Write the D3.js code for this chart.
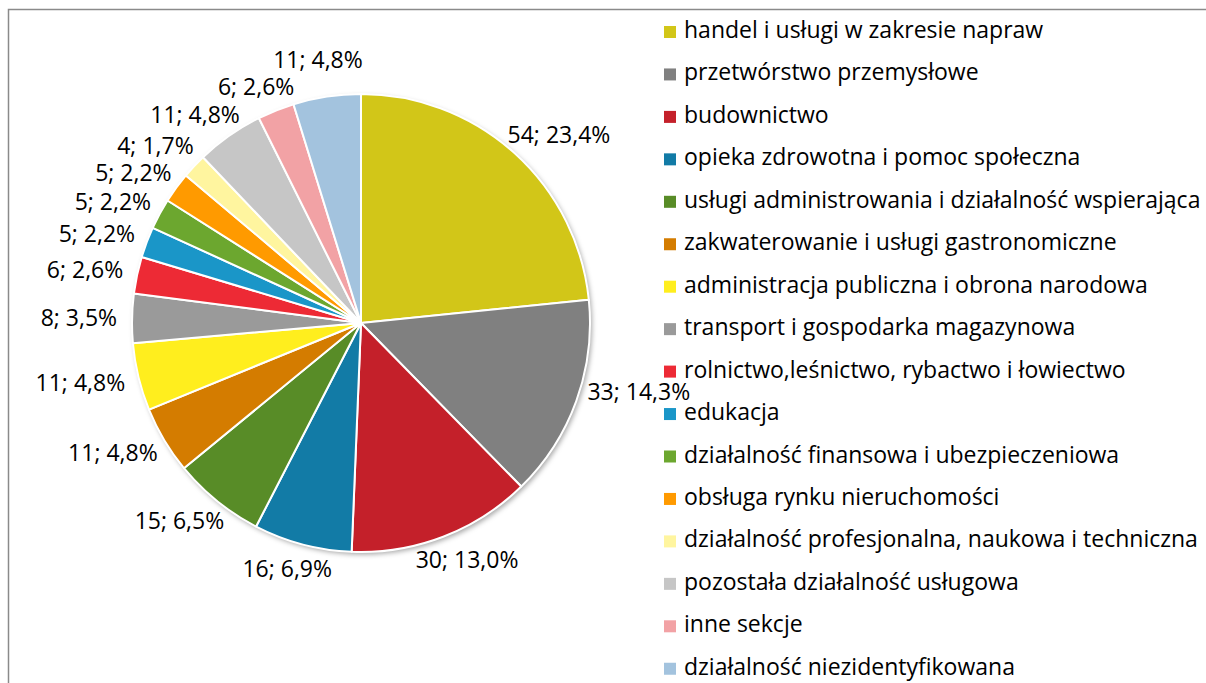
<!DOCTYPE html>
<html>
<head>
<meta charset="utf-8">
<script src="https://cdn.jsdelivr.net/npm/d3@7"></script>
<style>
  body { margin: 0; background: #fff; }
  text { font-family: "Open Sans", "Noto Sans", sans-serif; fill: #000; }
</style>
</head>
<body>
<div id="chart"></div>
<script>
// sekcje PKD, liczba podmiotów
const categories = [
  "handel i usługi w zakresie napraw",
  "przetwórstwo przemysłowe",
  "budownictwo",
  "opieka zdrowotna i pomoc społeczna",
  "usługi administrowania i działalność wspierająca",
  "zakwaterowanie i usługi gastronomiczne",
  "administracja publiczna i obrona narodowa",
  "transport i gospodarka magazynowa",
  "rolnictwo,leśnictwo, rybactwo i łowiectwo",
  "edukacja",
  "działalność finansowa i ubezpieczeniowa",
  "obsługa rynku nieruchomości",
  "działalność profesjonalna, naukowa i techniczna",
  "pozostała działalność usługowa",
  "inne sekcje",
  "działalność niezidentyfikowana"
];
const values = [54, 33, 30, 16, 15, 11, 11, 8, 6, 5, 5, 5, 4, 11, 6, 11];
const colors = [
  "#D2C618", "#808080", "#C4202A", "#127BA6", "#588C27", "#D47C00",
  "#FFEE1E", "#9A9A9A", "#ED2A35", "#1A96C8", "#6CA72F", "#FF9A00",
  "#FFF59F", "#C6C6C6", "#F2A2A5", "#A3C3DE"
];

const width = 1206, height = 683;
const cx = 361, cy = 323, radius = 229;
const fontSize = 23;

const svg = d3.select("#chart").append("svg")
    .attr("width", width)
    .attr("height", height);

// ramka wykresu
svg.append("rect")
    .attr("x", 8.5)
    .attr("y", 9.5)
    .attr("width", width + 50)
    .attr("height", height + 50)
    .attr("fill", "none")
    .attr("stroke", "#8a8a8a")
    .attr("stroke-width", 1.5);

const defs = svg.append("defs");
defs.append("filter")
    .attr("id", "shadow")
    .attr("x", "-10%").attr("y", "-10%")
    .attr("width", "120%").attr("height", "120%")
  .append("feDropShadow")
    .attr("dx", 2).attr("dy", 2.5)
    .attr("stdDeviation", 2.5)
    .attr("flood-color", "#000")
    .attr("flood-opacity", 0.35);

const total = d3.sum(values);
const pctFormat = d3.format(".1f");

const pie = d3.pie().sort(null).value(d => d);
const arcs = pie(values);
const arc = d3.arc().innerRadius(0).outerRadius(radius);

const pieG = svg.append("g")
    .attr("transform", `translate(${cx}, ${cy})`);

pieG.append("circle")
    .attr("r", radius)
    .attr("fill", "#fff")
    .attr("filter", "url(#shadow)");

pieG.selectAll("path.slice")
    .data(arcs)
    .enter()
    .append("path")
      .attr("class", "slice")
      .attr("d", arc)
      .attr("fill", (d, i) => colors[i])
      .attr("stroke", "#fff")
      .attr("stroke-width", 2)
      .attr("stroke-linejoin", "round");

// legenda
const legendX = 664, legendTop = 32, legendStep = 42.45, sq = 12;
const legend = svg.append("g");
const rows = legend.selectAll("g")
    .data(categories)
    .enter()
    .append("g")
      .attr("transform", (d, i) => `translate(${legendX}, ${legendTop + i * legendStep})`);

rows.append("rect")
    .attr("x", 0)
    .attr("y", -sq / 2)
    .attr("width", sq)
    .attr("height", sq)
    .attr("fill", (d, i) => colors[i]);

rows.append("text")
    .attr("x", 20)
    .attr("y", sq / 2)
    .attr("font-size", fontSize + "px")
    .text(d => d);

// ciasne prostokąty tekstów legendy (w układzie svg)
const legendBoxes = [];
rows.each(function(d, i) {
    const t = d3.select(this).select("text").node();
    const base = legendTop + i * legendStep + sq / 2;
    legendBoxes.push({
        x0: legendX, x1: legendX + 20 + t.getComputedTextLength(),
        y0: base - 0.76 * fontSize, y1: base + 0.24 * fontSize
    });
});

// etykiety danych: "wartość; procent"
const gap = 15, boxH = 20, sepH = 27;
const labels = pieG.selectAll("text.label")
    .data(arcs)
    .enter()
    .append("text")
      .attr("class", "label")
      .attr("font-size", fontSize + "px")
      .attr("text-anchor", "middle")
      .text(d => d.value + "; " + pctFormat(d.value / total * 100).replace(".", ",") + "%");

const placed = [];
labels.each(function(d) {
    const a = (d.startAngle + d.endAngle) / 2;
    const w = this.getComputedTextLength();
    const px = (radius + gap) * Math.sin(a);
    const py = -(radius + gap) * Math.cos(a);
    placed.push({
        node: this, a: a, w: w,
        x: cx + px + w / 2 * Math.sin(a),
        y: cy + py - boxH / 2 * Math.cos(a)
    });
});

const overlaps = (p, b, h) =>
    p.x - p.w / 2 < b.x1 && p.x + p.w / 2 > b.x0 &&
    p.y - h / 2 < b.y1 && p.y + h / 2 > b.y0;

// etykiety nie mogą zachodzić na legendę
placed.forEach(p => {
    legendBoxes.forEach(b => {
        if (overlaps(p, b, boxH)) p.y = b.y0 - boxH / 2 - 1;
    });
});

// lewa strona: od dołu do góry, rozsuwanie w górę
const left = placed.filter(p => p.a > Math.PI).sort((m, n) => m.a - n.a);
for (let i = 1; i < left.length; i++) {
    for (let j = 0; j < i; j++) {
        const q = left[j], p = left[i];
        const box = {x0: q.x - q.w / 2, x1: q.x + q.w / 2, y0: q.y - sepH / 2, y1: q.y + sepH / 2};
        if (overlaps(p, box, sepH)) p.y = box.y0 - sepH / 2;
    }
}

placed.forEach(p => {
    d3.select(p.node)
        .attr("x", p.x - cx)
        .attr("y", p.y - cy + fontSize * 0.36);
});
</script>
</body>
</html>
